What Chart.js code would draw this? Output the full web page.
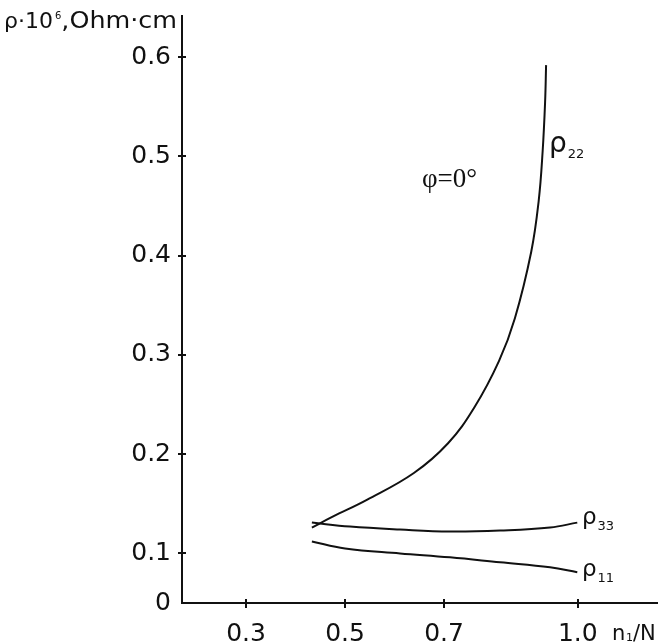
<!DOCTYPE html>
<html>
<head>
<meta charset="utf-8">
<script src="https://cdn.jsdelivr.net/npm/chart.js@4.4.1/dist/chart.umd.min.js"></script>
<style>
  html, body { margin: 0; padding: 0; background: #fff; }
  #wrap { width: 658px; height: 644px; }
</style>
</head>
<body>
<div id="wrap"><canvas id="chart" width="658" height="644"></canvas></div>
<script>
// Resistivity components vs n1/N at phi = 0.
// x values are in the figure's own axis units (its "1.0" tick sits a bit short of linear).
const xTicks = [0.3, 0.5, 0.7, 0.97];
const xTickLabels = ['0.3', '0.5', '0.7', '1.0'];
const yTicks = [0.05, 0.1, 0.2, 0.3, 0.4, 0.5, 0.6];
const yTickLabels = ['0', '0.1', '0.2', '0.3', '0.4', '0.5', '0.6'];

const rho22X = [0.433, 0.475, 0.544, 0.639, 0.708, 0.761, 0.811, 0.843, 0.876, 0.891, 0.899, 0.904, 0.906];
const rho22Y = [0.126, 0.137, 0.154, 0.181, 0.211, 0.247, 0.294, 0.337, 0.404, 0.455, 0.505, 0.555, 0.592];

const rho33X = [0.433, 0.510, 0.611, 0.712, 0.813, 0.914, 0.969];
const rho33Y = [0.131, 0.127, 0.124, 0.122, 0.123, 0.126, 0.131];

const rho11X = [0.433, 0.500, 0.611, 0.712, 0.813, 0.914, 0.969];
const rho11Y = [0.112, 0.105, 0.100, 0.096, 0.091, 0.086, 0.081];

const INK = '#111';
const SANS = '"DejaVu Sans", sans-serif';

function toPoints( xs, ys ) {
	return xs.map( ( x, i ) => ( { x, y: ys[ i ] } ) );
}

function curve( xs, ys ) {
	return {
		data: toPoints( xs, ys ),
		borderColor: INK,
		borderWidth: 2,
		pointRadius: 0,
		tension: 0.4,
		fill: false
	};
}

// rho with a small subscript
function rhoLabel( ctx, x, y, size, sub ) {
	ctx.font = size + 'px ' + SANS;
	ctx.fillText( 'ρ', x, y );
	const w = ctx.measureText( 'ρ' ).width;
	ctx.font = '13px ' + SANS;
	ctx.fillText( sub, x + w + 1, y + 6 );
}

const figureExtras = {
	id: 'figureExtras',
	afterDraw( chart ) {
		const { ctx, scales: { x, y } } = chart;
		ctx.save();
		ctx.strokeStyle = INK;
		ctx.fillStyle = INK;
		ctx.lineWidth = 2;

		// tick marks cross the axis lines
		ctx.beginPath();
		yTicks.forEach( ( v ) => {
			if ( v === y.min ) return;
			const py = Math.round( y.getPixelForValue( v ) );
			ctx.moveTo( x.left - 4, py );
			ctx.lineTo( x.left + 4, py );
		} );
		xTicks.forEach( ( v ) => {
			const px = Math.round( x.getPixelForValue( v ) );
			ctx.moveTo( px, y.bottom - 4 );
			ctx.lineTo( px, y.bottom + 5 );
		} );
		ctx.stroke();

		ctx.textBaseline = 'alphabetic';
		ctx.textAlign = 'left';

		// y axis title: rho*10^6, Ohm*cm (stretched a little, the original face is wide)
		ctx.font = '22px ' + SANS;
		let tx = 4;
		ctx.fillText( 'ρ·10', tx, 28 );
		tx += ctx.measureText( 'ρ·10' ).width + 2;
		ctx.font = '10px ' + SANS;
		ctx.fillText( '6', tx, 19 );
		tx += ctx.measureText( '6' ).width;
		ctx.font = '23px ' + SANS;
		const rest = ',Ohm·cm';
		const sx = ( 177 - tx ) / ctx.measureText( rest ).width;
		ctx.save();
		ctx.translate( tx, 28 );
		ctx.scale( sx, 1 );
		ctx.fillText( rest, 0, 0 );
		ctx.restore();

		// x axis title
		ctx.font = '21px ' + SANS;
		ctx.fillText( 'n', 612, 640 );
		ctx.font = '11px ' + SANS;
		ctx.fillText( '1', 626, 641 );
		ctx.font = '21px ' + SANS;
		ctx.fillText( '/N', 633, 640 );

		// curve labels
		rhoLabel( ctx, 549, 152, 28, '22' );
		rhoLabel( ctx, 582, 524, 23, '33' );
		rhoLabel( ctx, 582, 576, 23, '11' );

		ctx.font = '27px "Liberation Serif", serif';
		ctx.fillText( 'φ=0°', 422, 187 );

		ctx.restore();
	}
};

new Chart( document.getElementById( 'chart' ), {
	type: 'line',
	data: {
		datasets: [
			curve( rho22X, rho22Y ),
			curve( rho33X, rho33Y ),
			curve( rho11X, rho11Y )
		]
	},
	options: {
		responsive: false,
		animation: false,
		devicePixelRatio: 1,
		layout: { padding: { top: 13, left: 0, right: 0, bottom: 0 } },
		plugins: {
			legend: { display: false },
			tooltip: { enabled: false }
		},
		scales: {
			x: {
				type: 'linear',
				min: 0.1707,
				max: 1.132,
				grid: { display: false },
				border: { display: true, color: INK, width: 2 },
				afterBuildTicks: ( scale ) => {
					scale.ticks = xTicks.map( ( v ) => ( { value: v } ) );
				},
				afterFit: ( scale ) => {
					scale.height = 41;
				},
				ticks: {
					autoSkip: false,
					maxRotation: 0,
					padding: 11,
					color: INK,
					font: { family: SANS, size: 25, lineHeight: 1 },
					callback: ( v, i ) => xTickLabels[ i ]
				}
			},
			y: {
				type: 'linear',
				min: 0.05,
				max: 0.642,
				grid: { display: false },
				border: { display: true, color: INK, width: 2 },
				afterBuildTicks: ( scale ) => {
					scale.ticks = yTicks.map( ( v ) => ( { value: v } ) );
				},
				afterFit: ( scale ) => {
					scale.width = 182;
				},
				ticks: {
					autoSkip: false,
					padding: 3,
					color: INK,
					font: { family: SANS, size: 25, lineHeight: 1 },
					callback: ( v, i ) => yTickLabels[ i ]
				}
			}
		}
	},
	plugins: [ figureExtras ]
} );
</script>
</body>
</html>
